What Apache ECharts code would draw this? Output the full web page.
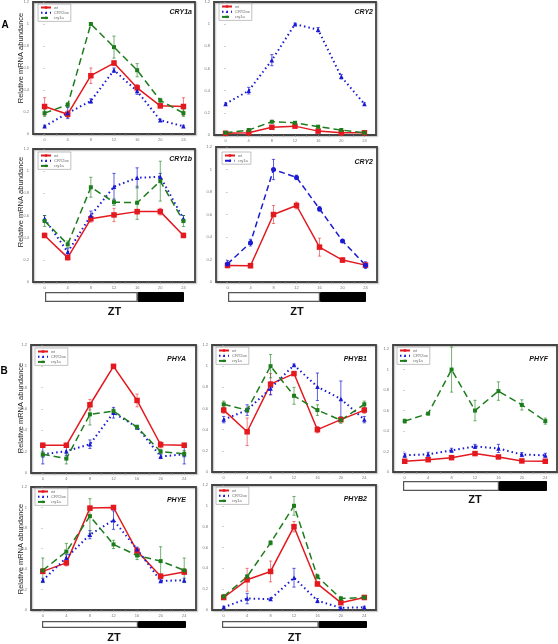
<!DOCTYPE html>
<html><head><meta charset="utf-8">
<script src="https://cdn.jsdelivr.net/npm/echarts@6/dist/echarts.min.js"></script>
<style>html,body{margin:0;padding:0;background:#fff}#c{width:558px;height:644px}</style>
</head><body><div id="c"></div><script>
// ---------- data ----------
const ZT = [0, 4, 8, 12, 16, 20, 24];
const xTickLabels = [0, 4, 8, 12, 16, 20, 24];
const xMinorTicks = [0, 2, 4, 6, 8, 10, 12, 14, 16, 18, 20, 22, 24];
const yTickLabels = [0, 0.2, 0.4, 0.6, 0.8, 1, 1.2];
const lightHours = [16];
const darkHours = [8];
const nameWt = 'wt';
const nameOx = 'CRY2ox';
const nameC1a = 'cry1a';
const nameLow = 'cry1a ';

// CRY1a
const cry1a_wt = [0.25, 0.18, 0.53, 0.645, 0.42, 0.256, 0.25];
const cry1a_wt_err = [0.08, 0.03, 0.07, 0.02, 0.03, 0.02, 0.08];
const cry1a_ox = [0.07, 0.19, 0.30, 0.58, 0.39, 0.125, 0.07];
const cry1a_ox_err = [0.01, 0.05, 0.02, 0.02, 0.03, 0.01, 0.01];
const cry1a_c1a = [0.19, 0.265, 1.0, 0.79, 0.58, 0.305, 0.19];
const cry1a_c1a_err = [0.03, 0.02, 0.01, 0.1, 0.06, 0.02, 0.03];
// CRY2 (top)
const cry2a_wt = [0.015, 0.02, 0.07, 0.08, 0.035, 0.02, 0.02];
const cry2a_wt_err = [0.01, 0.01, 0.01, 0.01, 0.01, 0.01, 0.01];
const cry2a_ox = [0.28, 0.40, 0.675, 1.0, 0.95, 0.525, 0.28];
const cry2a_ox_err = [0.01, 0.03, 0.05, 0.01, 0.02, 0.02, 0.01];
const cry2a_c1a = [0.02, 0.045, 0.12, 0.11, 0.075, 0.045, 0.02];
const cry2a_c1a_err = [0.01, 0.01, 0.01, 0.01, 0.01, 0.01, 0.01];
// CRY1b
const cry1b_wt = [0.42, 0.22, 0.57, 0.605, 0.635, 0.635, 0.42];
const cry1b_wt_err = [0.02, 0.02, 0.03, 0.06, 0.02, 0.03, 0.02];
const cry1b_ox = [0.57, 0.27, 0.60, 0.86, 0.94, 0.95, 0.57];
const cry1b_ox_err = [0.03, 0.03, 0.04, 0.12, 0.09, 0.03, 0.03];
const cry1b_c1a = [0.55, 0.34, 0.855, 0.72, 0.715, 0.91, 0.55];
const cry1b_c1a_err = [0.05, 0.03, 0.09, 0.03, 0.15, 0.18, 0.05];
// CRY2 (bottom)
const cry2b_wt = [0.147, 0.145, 0.60, 0.68, 0.31, 0.195, 0.15];
const cry2b_wt_err = [0.02, 0.02, 0.08, 0.03, 0.08, 0.02, 0.02];
const cry2b_mut = [0.16, 0.35, 1.0, 0.93, 0.65, 0.365, 0.15];
const cry2b_mut_err = [0.03, 0.03, 0.09, 0.02, 0.02, 0.01, 0.03];
// PHYA
const phya_wt = [0.26, 0.26, 0.64, 1.0, 0.68, 0.265, 0.26];
const phya_wt_err = [0.02, 0.02, 0.05, 0.01, 0.06, 0.03, 0.02];
const phya_ox = [0.175, 0.205, 0.27, 0.565, 0.43, 0.155, 0.175];
const phya_ox_err = [0.09, 0.04, 0.04, 0.05, 0.01, 0.02, 0.09];
const phya_c1a = [0.175, 0.135, 0.55, 0.58, 0.43, 0.2, 0.18];
const phya_c1a_err = [0.03, 0.05, 0.1, 0.02, 0.02, 0.02, 0.03];
// PHYB1
const phyb1_wt = [0.585, 0.38, 0.83, 0.93, 0.40, 0.495, 0.585];
const phyb1_wt_err = [0.03, 0.13, 0.1, 0.01, 0.03, 0.02, 0.03];
const phyb1_ox = [0.495, 0.585, 0.79, 1.01, 0.805, 0.69, 0.495];
const phyb1_ox_err = [0.03, 0.05, 0.06, 0.01, 0.13, 0.17, 0.03];
const phyb1_c1a = [0.64, 0.585, 1.0, 0.72, 0.585, 0.49, 0.64];
const phyb1_c1a_err = [0.03, 0.02, 0.11, 0.08, 0.05, 0.03, 0.03];
// PHYF
const phyf_wt = [0.105, 0.12, 0.14, 0.18, 0.147, 0.108, 0.105];
const phyf_wt_err = [0.01, 0.01, 0.01, 0.01, 0.01, 0.01, 0.01];
const phyf_ox = [0.163, 0.173, 0.212, 0.25, 0.23, 0.17, 0.163];
const phyf_ox_err = [0.02, 0.02, 0.02, 0.02, 0.04, 0.02, 0.02];
const phyf_c1a = [0.497, 0.57, 1.0, 0.6, 0.79, 0.655, 0.497];
const phyf_c1a_err = [0.02, 0.01, 0.22, 0.1, 0.09, 0.05, 0.03];
// PHYE
const phye_wt = [0.377, 0.46, 0.994, 1.0, 0.575, 0.33, 0.37];
const phye_wt_err = [0.02, 0.03, 0.02, 0.02, 0.03, 0.02, 0.02];
const phye_ox = [0.29, 0.51, 0.735, 0.877, 0.593, 0.284, 0.29];
const phye_ox_err = [0.02, 0.03, 0.04, 0.09, 0.02, 0.01, 0.02];
const phye_c1a = [0.387, 0.57, 0.916, 0.64, 0.532, 0.477, 0.387];
const phye_c1a_err = [0.12, 0.08, 0.17, 0.04, 0.04, 0.14, 0.12];
// PHYB2
const phyb2_wt = [0.12, 0.29, 0.37, 0.8, 0.25, 0.07, 0.12];
const phyb2_wt_err = [0.02, 0.11, 0.1, 0.05, 0.02, 0.01, 0.02];
const phyb2_ox = [0.026, 0.11, 0.105, 0.31, 0.09, 0.02, 0.026];
const phyb2_ox_err = [0.01, 0.05, 0.01, 0.09, 0.02, 0.01, 0.01];
const phyb2_c1a = [0.13, 0.32, 0.645, 1.0, 0.32, 0.11, 0.12];
const phyb2_c1a_err = [0.02, 0.02, 0.02, 0.09, 0.02, 0.02, 0.02];

// ---------- styles ----------
const RED = '#e3191f', BLUE = '#1a1ad4', GREEN = '#1d7d1d';
const styles = {
  wt:  {color: RED, type: 'solid', width: 1.5, symbol: 'rect', size: 5.5, err: 'rgba(227,25,31,0.55)'},
  ox:  {color: BLUE, type: [1.5, 3], width: 2, symbol: 'triangle', size: 4.5, err: 'rgba(26,26,212,0.7)'},
  c1a: {color: GREEN, type: [7, 4], width: 1.5, symbol: 'rect', size: 4, err: 'rgba(29,125,29,0.6)'},
  low: {color: BLUE, type: [6, 3.5], width: 1.5, symbol: 'circle', size: 5, err: 'rgba(26,26,212,0.7)'}
};

const panels = [
  {title: 'CRY1a', box: [33, 2, 162, 132], tpos: [192, 12], leg: [38, 4], yname: [21, 58],
   lines: [[nameWt, 'wt', cry1a_wt, cry1a_wt_err], [nameOx, 'ox', cry1a_ox, cry1a_ox_err], [nameC1a, 'c1a', cry1a_c1a, cry1a_c1a_err]]},
  {title: 'CRY2', box: [214, 2, 162, 133], tpos: [373, 12], leg: [219, 3],
   lines: [[nameWt, 'wt', cry2a_wt, cry2a_wt_err], [nameOx, 'ox', cry2a_ox, cry2a_ox_err], [nameC1a, 'c1a', cry2a_c1a, cry2a_c1a_err]]},
  {title: 'CRY1b', box: [33, 149, 162, 133], tpos: [192, 159], leg: [38, 152], yname: [21, 202],
   lines: [[nameWt, 'wt', cry1b_wt, cry1b_wt_err], [nameOx, 'ox', cry1b_ox, cry1b_ox_err], [nameC1a, 'c1a', cry1b_c1a, cry1b_c1a_err]]},
  {title: 'CRY2', box: [216, 147, 161, 135], tpos: [373, 162], leg: [222, 152],
   lines: [[nameWt, 'wt', cry2b_wt, cry2b_wt_err], [nameLow, 'low', cry2b_mut, cry2b_mut_err]]},
  {title: 'PHYA', box: [31, 345, 165, 128], tpos: [186, 359], leg: [35, 348], yname: [21, 408],
   lines: [[nameWt, 'wt', phya_wt, phya_wt_err], [nameOx, 'ox', phya_ox, phya_ox_err], [nameC1a, 'c1a', phya_c1a, phya_c1a_err]]},
  {title: 'PHYB1', box: [212, 345, 164, 127], tpos: [367, 359], leg: [216, 347],
   lines: [[nameWt, 'wt', phyb1_wt, phyb1_wt_err], [nameOx, 'ox', phyb1_ox, phyb1_ox_err], [nameC1a, 'c1a', phyb1_c1a, phyb1_c1a_err]]},
  {title: 'PHYF', box: [393, 345, 164, 127], tpos: [548, 359], leg: [397, 347], ymax: 1.24,
   lines: [[nameWt, 'wt', phyf_wt, phyf_wt_err], [nameOx, 'ox', phyf_ox, phyf_ox_err], [nameC1a, 'c1a', phyf_c1a, phyf_c1a_err]]},
  {title: 'PHYE', box: [31, 487, 165, 123], tpos: [186, 500], leg: [35, 488], yname: [21, 549],
   lines: [[nameWt, 'wt', phye_wt, phye_wt_err], [nameOx, 'ox', phye_ox, phye_ox_err], [nameC1a, 'c1a', phye_c1a, phye_c1a_err]]},
  {title: 'PHYB2', box: [212, 485, 164, 125], tpos: [367, 499], leg: [216, 487],
   lines: [[nameWt, 'wt', phyb2_wt, phyb2_wt_err], [nameOx, 'ox', phyb2_ox, phyb2_ox_err], [nameC1a, 'c1a', phyb2_c1a, phyb2_c1a_err]]}
];

const ldBars = [
  [45, 292, 139, 10, 4],
  [228, 292, 138, 10, 4],
  [403, 481, 144, 10, 3],
  [42, 621, 144, 10, 4],
  [222, 621, 145, 10, 4]
];

// ---------- build ----------
function errRender(color) {
  return function (params, api) {
    const x = api.value(0);
    const lo = api.coord([x, api.value(1)]);
    const hi = api.coord([x, api.value(2)]);
    const w = 1.6;
    const st = {stroke: color, lineWidth: 1};
    return {type: 'group', children: [
      {type: 'line', shape: {x1: lo[0], y1: lo[1], x2: hi[0], y2: hi[1]}, style: st},
      {type: 'line', shape: {x1: lo[0] - w, y1: lo[1], x2: lo[0] + w, y2: lo[1]}, style: st},
      {type: 'line', shape: {x1: hi[0] - w, y1: hi[1], x2: hi[0] + w, y2: hi[1]}, style: st}
    ]};
  };
}

const grid = [], xAxis = [], yAxis = [], series = [], legend = [], graphic = [];
const labelStyle = {fontSize: 4, color: '#777', fontFamily: 'Liberation Sans'};

panels.forEach((p, i) => {
  grid.push({left: p.box[0], top: p.box[1], width: p.box[2], height: p.box[3], show: true,
    borderColor: '#444', borderWidth: 1.8, backgroundColor: 'transparent',
    shadowColor: 'rgba(0,0,0,0.25)', shadowBlur: 1.5, shadowOffsetX: 1, shadowOffsetY: 1});
  xAxis.push({gridIndex: i, type: 'value', min: -2, max: 26,
    axisLine: {show: false},
    axisTick: {show: true, customValues: xMinorTicks, length: 2, inside: false, lineStyle: {color: '#999', width: 0.6}},
    axisLabel: Object.assign({customValues: xTickLabels, margin: 4}, labelStyle),
    splitLine: {show: false}});
  yAxis.push({gridIndex: i, type: 'value', min: 0, max: p.ymax || 1.2,
    axisLine: {show: false},
    axisTick: {show: true, customValues: yTickLabels, length: 1.5, lineStyle: {color: '#999', width: 0.6}},
    axisLabel: Object.assign({customValues: yTickLabels, margin: 4,
      formatter: v => String(Math.round(v * 10) / 10)}, labelStyle),
    splitLine: {show: false}});
  const names = [];
  p.lines.forEach(([name, key, vals, errs]) => {
    const s = styles[key];
    names.push(name);
    series.push({type: 'custom', xAxisIndex: i, yAxisIndex: i, z: 2, silent: true,
      renderItem: errRender(s.err),
      data: ZT.map((x, k) => [x, vals[k] - errs[k], vals[k] + errs[k]]),
      encode: {x: 0, y: [1, 2]}});
    series.push({type: 'line', name: name, xAxisIndex: i, yAxisIndex: i, z: 3,
      data: ZT.map((x, k) => [x, vals[k]]),
      symbol: s.symbol, symbolSize: s.size, showSymbol: true,
      itemStyle: {color: s.color},
      lineStyle: {color: s.color, type: s.type, width: s.width}});
  });
  legend.push({left: p.leg[0], top: p.leg[1], orient: 'vertical', data: names,
    itemWidth: 10, itemHeight: 3, itemGap: 1.2, padding: [1.5, 2, 1.5, 2],
    borderColor: '#999', borderWidth: 0.6, selectedMode: false,
    textStyle: {fontSize: 4, color: '#666', fontFamily: 'Liberation Sans', padding: [0, 0, 0, -2]}});
  graphic.push({type: 'text', x: p.tpos[0], y: p.tpos[1],
    style: {text: p.title, align: 'right', verticalAlign: 'middle', fill: '#111',
      font: 'italic bold 7px "Liberation Sans", Arial'}});
  if (p.yname) {
    graphic.push({type: 'text', x: p.yname[0], y: p.yname[1], rotation: Math.PI / 2,
      style: {text: 'Relative mRNA abundance', align: 'center', verticalAlign: 'middle', fill: '#222',
        font: '7.5px "Liberation Sans", Arial'}});
  }
});

ldBars.forEach((b, j) => {
  const gi = panels.length + j;
  grid.push({left: b[0], top: b[1], width: b[2], height: b[3], show: false});
  xAxis.push({gridIndex: gi, type: 'value', min: 0, max: 24, axisLine: {show: false}, axisTick: {show: false},
    axisLabel: {show: false}, splitLine: {show: false},
    name: 'ZT', nameLocation: 'middle', nameGap: b[4],
    nameTextStyle: {fontSize: 11, fontWeight: 'bold', color: '#111', fontFamily: 'Liberation Sans', verticalAlign: 'top'}});
  yAxis.push({gridIndex: gi, type: 'category', data: ['LD'], show: false});
  series.push({type: 'bar', xAxisIndex: gi, yAxisIndex: gi, stack: 'ld' + j, barWidth: '100%', silent: true,
    data: lightHours, itemStyle: {color: '#fff', borderColor: '#555', borderWidth: 1.2}});
  series.push({type: 'bar', xAxisIndex: gi, yAxisIndex: gi, stack: 'ld' + j, barWidth: '100%', silent: true,
    data: darkHours, itemStyle: {color: '#000', borderColor: '#000', borderWidth: 1}});
});

graphic.push({type: 'text', x: 5, y: 25, style: {text: 'A', align: 'center', verticalAlign: 'middle', fill: '#000', font: 'bold 10px "Liberation Sans", Arial'}});
graphic.push({type: 'text', x: 4, y: 371, style: {text: 'B', align: 'center', verticalAlign: 'middle', fill: '#000', font: 'bold 10px "Liberation Sans", Arial'}});

const chart = echarts.init(document.getElementById('c'), null, {renderer: 'canvas'});
chart.setOption({animation: false, backgroundColor: '#fff', grid, xAxis, yAxis, series, legend, graphic});
</script></body></html>
